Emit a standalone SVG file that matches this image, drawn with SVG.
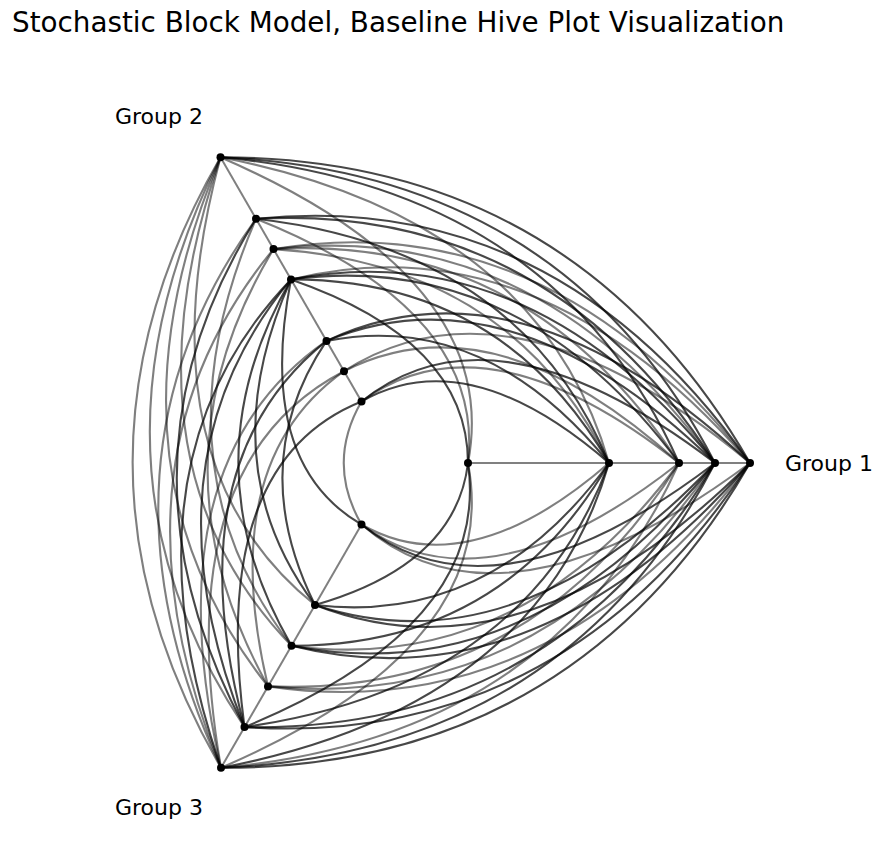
<svg xmlns="http://www.w3.org/2000/svg" width="884" height="858" viewBox="0 0 884 858">
<style>
text{font-family:"DejaVu Sans",sans-serif;fill:#000}
.t{font-size:27.8px}.l{font-size:22px}
.ax{stroke:#808080;stroke-width:2;fill:none}
.d{stroke:#000;stroke-opacity:.72;stroke-width:2.1;fill:none}
.g{stroke:#000;stroke-opacity:.5;stroke-width:2.1;fill:none}
.n{fill:#000}
</style>
<rect width="884" height="858" fill="#fff"/>
<text class="t" x="12" y="32">Stochastic Block Model, Baseline Hive Plot Visualization</text>
<text class="l" x="785" y="471">Group 1</text>
<text class="l" x="115" y="124">Group 2</text>
<text class="l" x="115" y="815">Group 3</text>
<g id="axes">
<line class="ax" x1="468" y1="463" x2="750" y2="463"/>
<line class="ax" x1="361.5" y1="401.5" x2="220.5" y2="157.3"/>
<line class="ax" x1="361.5" y1="524.5" x2="221" y2="767.8"/>
</g>
<g id="edges">
<path class="d" d="M468 463Q467.8 340.5 291 279.4"/>
<path class="g" d="M468 463Q485.3 310.2 256 218.8"/>
<path class="g" d="M468 463Q503 279.4 220.5 157.3"/>
<path class="d" d="M609 463Q467.8 340.5 361.5 401.5"/>
<path class="d" d="M609 463Q485.3 310.2 326.5 340.9"/>
<path class="d" d="M609 463Q503 279.4 291 279.4"/>
<path class="g" d="M609 463Q511.8 264.3 273.5 249.1"/>
<path class="d" d="M609 463Q520.5 249.1 256 218.8"/>
<path class="g" d="M609 463Q538.3 218.4 220.5 157.3"/>
<path class="g" d="M679 463Q485.3 310.2 361.5 401.5"/>
<path class="g" d="M679 463Q494 295 344 371.2"/>
<path class="d" d="M679 463Q520.5 249.1 291 279.4"/>
<path class="g" d="M679 463Q529.3 234 273.5 249.1"/>
<path class="d" d="M679 463Q555.8 188 220.5 157.3"/>
<path class="d" d="M715 463Q494.3 294.6 361.5 401.5"/>
<path class="d" d="M715 463Q511.8 264.3 326.5 340.9"/>
<path class="d" d="M715 463Q529.5 233.5 291 279.4"/>
<path class="g" d="M715 463Q538.3 218.4 273.5 249.1"/>
<path class="d" d="M715 463Q547 203.2 256 218.8"/>
<path class="d" d="M715 463Q564.8 172.5 220.5 157.3"/>
<path class="g" d="M750 463Q511.8 264.3 344 371.2"/>
<path class="d" d="M750 463Q520.5 249.1 326.5 340.9"/>
<path class="g" d="M750 463Q538.3 218.4 291 279.4"/>
<path class="g" d="M750 463Q547 203.2 273.5 249.1"/>
<path class="d" d="M750 463Q555.8 188 256 218.8"/>
<path class="d" d="M750 463Q573.5 157.3 220.5 157.3"/>
<path class="d" d="M468 463Q455.8 564.8 315 605"/>
<path class="d" d="M468 463Q491 625.8 244.5 727.1"/>
<path class="g" d="M468 463Q502.8 646.2 221 767.8"/>
<path class="g" d="M609 463Q467.8 585.5 361.5 524.5"/>
<path class="d" d="M609 463Q491 625.8 315 605"/>
<path class="d" d="M609 463Q502.8 646.2 291.5 645.7"/>
<path class="d" d="M609 463Q526.3 686.9 244.5 727.1"/>
<path class="d" d="M609 463Q538 707.2 221 767.8"/>
<path class="g" d="M679 463Q485.3 615.8 361.5 524.5"/>
<path class="g" d="M679 463Q520.3 676.5 291.5 645.7"/>
<path class="g" d="M679 463Q532 696.8 268 686.4"/>
<path class="g" d="M679 463Q555.5 737.5 221 767.8"/>
<path class="d" d="M715 463Q494.3 631.4 361.5 524.5"/>
<path class="d" d="M715 463Q517.5 671.7 315 605"/>
<path class="d" d="M715 463Q529.3 692 291.5 645.7"/>
<path class="g" d="M715 463Q541 712.4 268 686.4"/>
<path class="d" d="M715 463Q552.8 732.8 244.5 727.1"/>
<path class="d" d="M715 463Q564.5 753.1 221 767.8"/>
<path class="g" d="M750 463Q503 646.6 361.5 524.5"/>
<path class="d" d="M750 463Q526.3 686.9 315 605"/>
<path class="d" d="M750 463Q538 707.2 291.5 645.7"/>
<path class="g" d="M750 463Q549.8 727.6 268 686.4"/>
<path class="d" d="M750 463Q561.5 747.9 244.5 727.1"/>
<path class="d" d="M750 463Q573.3 768.3 221 767.8"/>
<path class="g" d="M361.5 401.5Q326 463 361.5 524.5"/>
<path class="d" d="M361.5 401.5Q209 463 244.5 727.1"/>
<path class="g" d="M344 371.2Q215 463 268 686.4"/>
<path class="d" d="M326.5 340.9Q244.5 463 315 605"/>
<path class="d" d="M326.5 340.9Q174 463 244.5 727.1"/>
<path class="d" d="M291 279.4Q255.5 463 361.5 524.5"/>
<path class="d" d="M291 279.4Q209 463 315 605"/>
<path class="d" d="M291 279.4Q185.5 463 291.5 645.7"/>
<path class="d" d="M291 279.4Q138.5 463 244.5 727.1"/>
<path class="d" d="M291 279.4Q115 463 221 767.8"/>
<path class="g" d="M273.5 249.1Q144.5 463 268 686.4"/>
<path class="g" d="M273.5 249.1Q97.5 463 221 767.8"/>
<path class="d" d="M256 218.8Q103.5 463 244.5 727.1"/>
<path class="g" d="M256 218.8Q150.5 463 291.5 645.7"/>
<path class="g" d="M256 218.8Q80 463 221 767.8"/>
<path class="g" d="M220.5 157.3Q91.5 463 268 686.4"/>
<path class="g" d="M220.5 157.3Q68 463 244.5 727.1"/>
<path class="g" d="M220.5 157.3Q44.5 463 221 767.8"/>
<path class="g" d="M220.5 157.3Q115 463 291.5 645.7"/>
<path class="g" d="M220.5 157.3Q138.5 463 315 605"/>
<path class="g" d="M344 371.2Q168 463 221 767.8"/>
<path class="g" d="M326.5 340.9Q150.5 463 221 767.8"/>
</g>
<g id="group1-nodes" class="n">
<circle cx="468" cy="463" r="4"/><circle cx="609" cy="463" r="4"/><circle cx="679" cy="463" r="4"/><circle cx="715" cy="463" r="4"/><circle cx="750" cy="463" r="4"/>
</g>
<g id="group2-nodes" class="n">
<circle cx="361.5" cy="401.5" r="4"/><circle cx="344" cy="371.2" r="4"/><circle cx="326.5" cy="340.9" r="4"/><circle cx="291" cy="279.4" r="4"/><circle cx="273.5" cy="249.1" r="4"/><circle cx="256" cy="218.8" r="4"/><circle cx="220.5" cy="157.3" r="4"/>
</g>
<g id="group3-nodes" class="n">
<circle cx="361.5" cy="524.5" r="4"/><circle cx="315" cy="605" r="4"/><circle cx="291.5" cy="645.7" r="4"/><circle cx="268" cy="686.4" r="4"/><circle cx="244.5" cy="727.1" r="4"/><circle cx="221" cy="767.8" r="4"/>
</g>
</svg>
